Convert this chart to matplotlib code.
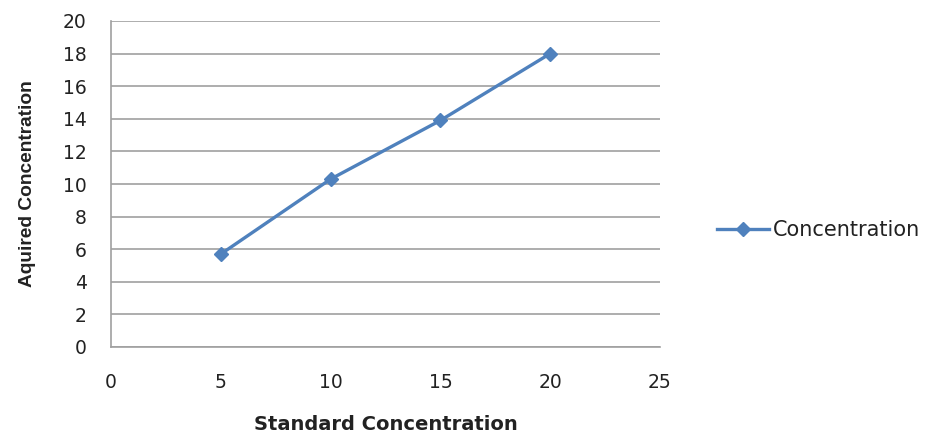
import matplotlib
matplotlib.use("Agg")
import matplotlib.pyplot as plt
from matplotlib.lines import Line2D

standard = [5, 10, 15, 20]
acquired = [5.7, 10.3, 13.9, 18.0]
x_ticks = [0, 5, 10, 15, 20, 25]
y_ticks = [0, 2, 4, 6, 8, 10, 12, 14, 16, 18, 20]
series_name = "Concentration"

color = "#4F81BD"
grid_color = "#A0A0A0"
text_color = "#222222"
plt.rcParams["font.family"] = ["DejaVu Sans"]

fig = plt.figure(figsize=(9.37, 4.33), dpi=100)
ax = fig.add_axes([111/937, 1-347/433, (660-111)/937, (347-21)/433])

ax.plot(standard, acquired, color=color, lw=2.4, marker="D", markersize=7.5,
        markeredgecolor=color, markerfacecolor=color)
ax.set_xlim(0, 25)
ax.set_ylim(0, 20)
ax.set_xticks(x_ticks)
ax.set_yticks(y_ticks)
ax.yaxis.grid(True, color=grid_color, lw=1.2)
ax.set_axisbelow(True)
for s in ["top", "right"]:
    ax.spines[s].set_visible(False)
for s in ["left", "bottom"]:
    ax.spines[s].set_color(grid_color)
    ax.spines[s].set_linewidth(1.2)
ax.tick_params(axis="both", length=0, labelsize=13.5, labelcolor=text_color)
ax.tick_params(axis="y", pad=17.5)
ax.tick_params(axis="x", pad=19)

ax.set_xlabel("Standard Concentration", fontsize=14, fontweight="bold",
              labelpad=16, color=text_color)
ax.set_ylabel("Aquired Concentration", fontsize=13.8, fontweight="bold",
              family=["DejaVu Sans Condensed", "Liberation Sans Narrow", "Liberation Sans"],
              labelpad=19, color=text_color)

handle = Line2D([], [], color=color, lw=2.4, marker="D", markersize=7.5,
                markeredgecolor=color, markerfacecolor=color)
fig.legend([handle], [series_name], loc="center left",
           bbox_to_anchor=(698/937, 1-230/433), frameon=False,
           fontsize=15, handlelength=2.5, handletextpad=0.2,
           labelcolor=text_color)

fig.savefig("out.png", dpi=100)
